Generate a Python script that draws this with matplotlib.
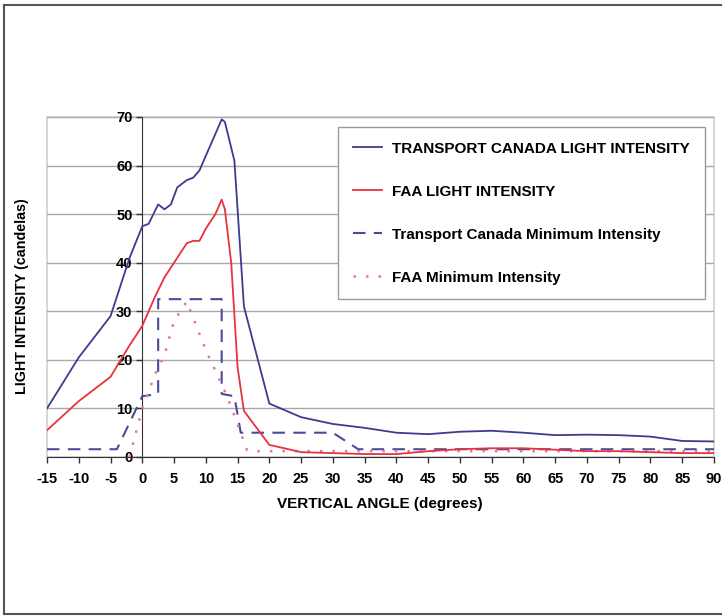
import matplotlib
matplotlib.use("Agg")
import matplotlib.pyplot as plt
from matplotlib.patches import Rectangle
from matplotlib.lines import Line2D

plt.rcParams['font.family'] = ['Liberation Sans', 'DejaVu Sans']
plt.rcParams['axes.unicode_minus'] = False

# Transport Canada measured light intensity
tc_x = [-15, -10, -5, -2, 0, 1, 2.5, 3.5, 4.5, 5.5, 7, 8, 9, 10, 11, 12.5, 13,
        14.5, 16, 20, 25, 30, 35, 40, 45, 50, 55, 60, 65, 70, 75, 80, 85, 90]
tc_y = [10, 20.5, 29, 41, 47.5, 48, 52, 51, 52, 55.5, 57, 57.5, 59, 62, 65, 69.5, 69,
        61, 31, 11, 8.2, 6.8, 6, 5, 4.7, 5.2, 5.4, 5, 4.5, 4.6, 4.5, 4.2, 3.3, 3.2]

# FAA measured light intensity
faa_x = [-15, -10, -5, -2, 0, 2, 3.5, 5, 7, 8, 9, 10, 11.5, 12.5, 13, 14, 15, 16,
         20, 25, 30, 35, 40, 45, 50, 55, 60, 65, 70, 75, 80, 85, 90]
faa_y = [5.5, 11.5, 16.5, 23, 27, 33, 37, 40, 44, 44.5, 44.5, 47, 50, 53, 51, 40, 18.5, 9.5,
         2.5, 1.0, 0.8, 0.6, 0.6, 1.2, 1.6, 1.8, 1.8, 1.5, 1.2, 1.2, 1.0, 0.8, 0.8]

# Transport Canada minimum intensity
tcmin_x = [-15, -4, 0, 2.5, 2.5, 12.5, 12.5, 14.5, 15.5, 30, 34, 90]
tcmin_y = [1.6, 1.6, 12.5, 13, 32.5, 32.5, 13, 12.5, 5, 5, 1.6, 1.6]

# FAA minimum intensity
faamin_x = [-2, 0, 2, 3.5, 5, 7, 10, 12.5, 13.5, 16.5, 18, 90]
faamin_y = [0, 10, 17, 21, 28, 32, 22, 15, 12, 1.4, 1.2, 1.2]

x_ticks = list(range(-15, 95, 5))
y_ticks = list(range(0, 80, 10))

W, H = 722, 616
fig = plt.figure(figsize=(W / 100, H / 100), dpi=100)
ax = fig.add_axes([47 / W, 1 - 457 / H, 667 / W, 340 / H])

c_tc = '#3c3c8e'
c_faa = '#e8323c'
c_tcmin = '#4b4b9c'
c_faamin = '#e2789a'

ax.plot(tc_x, tc_y, color=c_tc, lw=1.3, label='TRANSPORT CANADA LIGHT INTENSITY', zorder=4)
ax.plot(faa_x, faa_y, color=c_faa, lw=1.3, label='FAA LIGHT INTENSITY', zorder=4)
ax.plot(tcmin_x, tcmin_y, color=c_tcmin, lw=1.5, dashes=(6, 4), label='Transport Canada Minimum Intensity', zorder=3)
ax.plot(faamin_x, faamin_y, color=c_faamin, lw=1.8, dashes=(1, 4), label='FAA Minimum Intensity', zorder=3)

ax.set_xlim(-15, 90)
ax.set_ylim(0, 70)
ax.set_xticks(x_ticks)
ax.set_yticks(y_ticks)
for v in y_ticks[1:]:
    ax.axhline(v, color='#a8a8a8', lw=1.0, zorder=1)

ax.spines['left'].set_position(('data', 0))
ax.spines['left'].set_color('#333333')
ax.spines['bottom'].set_color('#333333')
for s in ['top', 'right']:
    ax.spines[s].set_visible(False)
ax.add_patch(Rectangle((0, 0), 1, 1, transform=ax.transAxes, fill=False,
                       ec='#d0d0d0', lw=1.2, zorder=0, clip_on=False))

ax.tick_params(axis='both', direction='out', length=4, width=1, color='#333333',
               labelsize=10.5)
ax.tick_params(axis='x', pad=7)
ax.tick_params(axis='y', pad=3)
for lab in ax.get_xticklabels() + ax.get_yticklabels():
    lab.set_fontweight('bold')

fig.text(380 / W, 1 - 504 / H, 'VERTICAL ANGLE (degrees)', ha='center', va='center',
         fontsize=11, fontweight='bold')
fig.text(22 / W, 1 - 296 / H, 'LIGHT INTENSITY (candelas)', ha='center', va='center',
         rotation=90, fontsize=10.3, fontweight='bold')

leg = ax.legend(loc='upper left', bbox_to_anchor=(338 / W, 1 - 127 / H),
                bbox_transform=fig.transFigure, fontsize=11, frameon=True,
                fancybox=False, edgecolor='#9a9a9a', framealpha=1,
                handlelength=1.9, handletextpad=0.7, labelspacing=1.9,
                borderpad=0.95, borderaxespad=0)
leg.get_frame().set_linewidth(1.0)
leg.set_zorder(10)
for t in leg.get_texts():
    t.set_fontweight('bold')

# figure border
fig.add_artist(Line2D([4 / W, 4 / W], [1 - 5 / H, 1 - 614 / H], transform=fig.transFigure, color='#555555', lw=1.5))
fig.add_artist(Line2D([4 / W, 1], [1 - 5 / H, 1 - 5 / H], transform=fig.transFigure, color='#555555', lw=1.5))
fig.add_artist(Line2D([4 / W, 1], [1 - 614 / H, 1 - 614 / H], transform=fig.transFigure, color='#555555', lw=1.5))

fig.savefig('out.png', dpi=100)
